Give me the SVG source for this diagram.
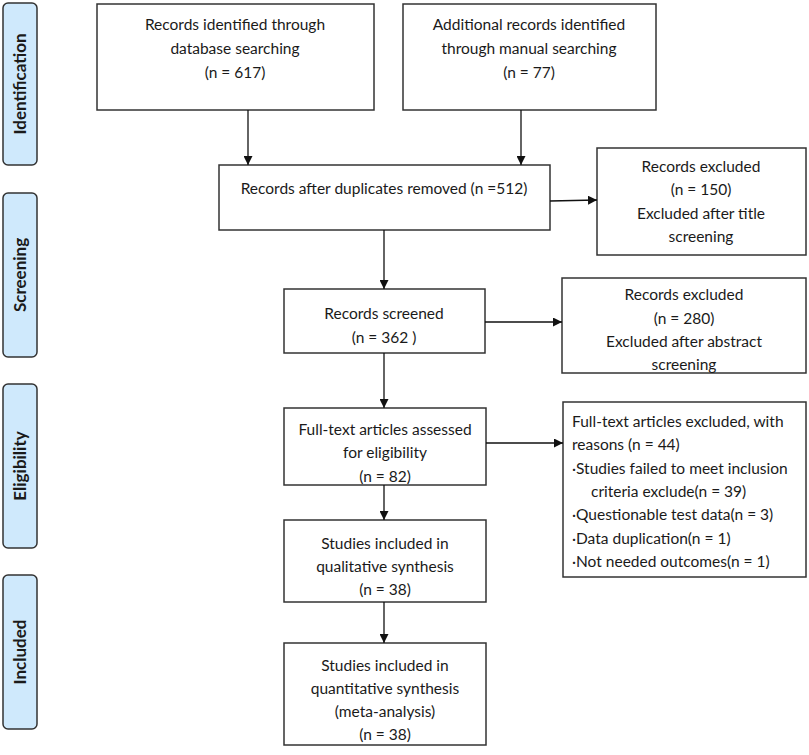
<svg xmlns="http://www.w3.org/2000/svg" width="809" height="755" viewBox="0 0 809 755">
<defs>
<marker id="ah" viewBox="0 0 10 10" refX="10" refY="5" markerWidth="9" markerHeight="9" markerUnits="userSpaceOnUse" orient="auto">
<path d="M0,0 L10,5 L0,10 z" fill="#111"/>
</marker>
<style>
.side{fill:#cfe9fc;stroke:#333;stroke-width:1.5}
.sidet{font-family:Lato,"Open Sans","Liberation Sans",sans-serif;font-weight:bold;font-size:17px;fill:#1a1a1a;text-anchor:middle}
.box{fill:#fff;stroke:#333;stroke-width:1.5}
.t{font-family:Lato,"Open Sans","Liberation Sans",sans-serif;font-size:15.5px;fill:#1a1a1a;text-anchor:middle}
.l{font-family:Lato,"Open Sans","Liberation Sans",sans-serif;font-size:15.5px;fill:#1a1a1a}
.c{stroke:#111;stroke-width:1.3;fill:none;marker-end:url(#ah)}
</style>
</defs>
<rect width="809" height="755" fill="#fff"/>
<g id="phase-identification">
<rect class="side" x="3" y="3" width="34" height="162" rx="5"/>
<text class="sidet" transform="translate(26,84) rotate(-90)">Identification</text>
</g>
<g id="phase-screening">
<rect class="side" x="3" y="193" width="34" height="164" rx="5"/>
<text class="sidet" transform="translate(26,275) rotate(-90)">Screening</text>
</g>
<g id="phase-eligibility">
<rect class="side" x="3" y="384" width="34" height="164" rx="5"/>
<text class="sidet" transform="translate(26,466) rotate(-90)">Eligibility</text>
</g>
<g id="phase-included">
<rect class="side" x="3" y="575" width="34" height="154" rx="5"/>
<text class="sidet" transform="translate(26,652) rotate(-90)">Included</text>
</g>
<g id="db-search">
<rect class="box" x="97" y="4" width="277" height="106"/>
<text class="t" x="235" y="30">Records identified through</text>
<text class="t" x="235" y="54">database searching</text>
<text class="t" x="235" y="78">(n = 617)</text>
</g>
<g id="manual-search">
<rect class="box" x="403" y="4" width="253" height="106"/>
<text class="t" x="529" y="30">Additional records identified</text>
<text class="t" x="529" y="54">through manual searching</text>
<text class="t" x="529" y="78">(n = 77)</text>
</g>
<g id="dedup">
<rect class="box" x="219" y="165" width="331" height="65"/>
<text class="t" x="384" y="194">Records after duplicates removed (n =512)</text>
</g>
<g id="excl-title">
<rect class="box" x="597" y="148" width="209" height="107"/>
<text class="t" x="701" y="172">Records excluded</text>
<text class="t" x="701" y="195">(n = 150)</text>
<text class="t" x="701" y="219">Excluded after title</text>
<text class="t" x="701" y="242">screening</text>
</g>
<g id="screened">
<rect class="box" x="284" y="289" width="201" height="64"/>
<text class="t" x="384" y="319">Records screened</text>
<text class="t" x="384" y="343">(n = 362 )</text>
</g>
<g id="excl-abstract">
<rect class="box" x="562" y="278" width="244" height="95"/>
<text class="t" x="684" y="300">Records excluded</text>
<text class="t" x="684" y="324">(n = 280)</text>
<text class="t" x="684" y="347">Excluded after abstract</text>
<text class="t" x="684" y="370">screening</text>
</g>
<g id="fulltext">
<rect class="box" x="284" y="408" width="202" height="77"/>
<text class="t" x="385" y="435">Full-text articles assessed</text>
<text class="t" x="385" y="458">for eligibility</text>
<text class="t" x="385" y="482">(n = 82)</text>
</g>
<g id="excl-fulltext">
<rect class="box" x="563" y="402" width="243" height="175"/>
<text class="l" x="572" y="427">Full-text articles excluded, with</text>
<text class="l" x="572" y="450">reasons (n = 44)</text>
<text class="l" x="572" y="474">·Studies failed to meet inclusion</text>
<text class="l" x="591" y="497">criteria exclude(n = 39)</text>
<text class="l" x="572" y="520">·Questionable test data(n = 3)</text>
<text class="l" x="572" y="544">·Data duplication(n = 1)</text>
<text class="l" x="572" y="567">·Not needed outcomes(n = 1)</text>
</g>
<g id="qualitative">
<rect class="box" x="284" y="520" width="202" height="82"/>
<text class="t" x="385" y="549">Studies included in</text>
<text class="t" x="385" y="572">qualitative synthesis</text>
<text class="t" x="385" y="595">(n = 38)</text>
</g>
<g id="quantitative">
<rect class="box" x="284" y="643" width="202" height="102"/>
<text class="t" x="385" y="671">Studies included in</text>
<text class="t" x="385" y="694">quantitative synthesis</text>
<text class="t" x="385" y="717">(meta-analysis)</text>
<text class="t" x="385" y="740">(n = 38)</text>
</g>
<g id="connectors">
<line class="c" x1="248" y1="110" x2="248" y2="165"/>
<line class="c" x1="521" y1="110" x2="521" y2="165"/>
<line class="c" x1="550" y1="201" x2="597" y2="200"/>
<line class="c" x1="384" y1="230" x2="384" y2="289"/>
<line class="c" x1="485" y1="322" x2="562" y2="322"/>
<line class="c" x1="384" y1="353" x2="384" y2="408"/>
<line class="c" x1="486" y1="443" x2="563" y2="443"/>
<line class="c" x1="384" y1="485" x2="384" y2="520"/>
<line class="c" x1="384" y1="602" x2="384" y2="643"/>
</g>
</svg>
